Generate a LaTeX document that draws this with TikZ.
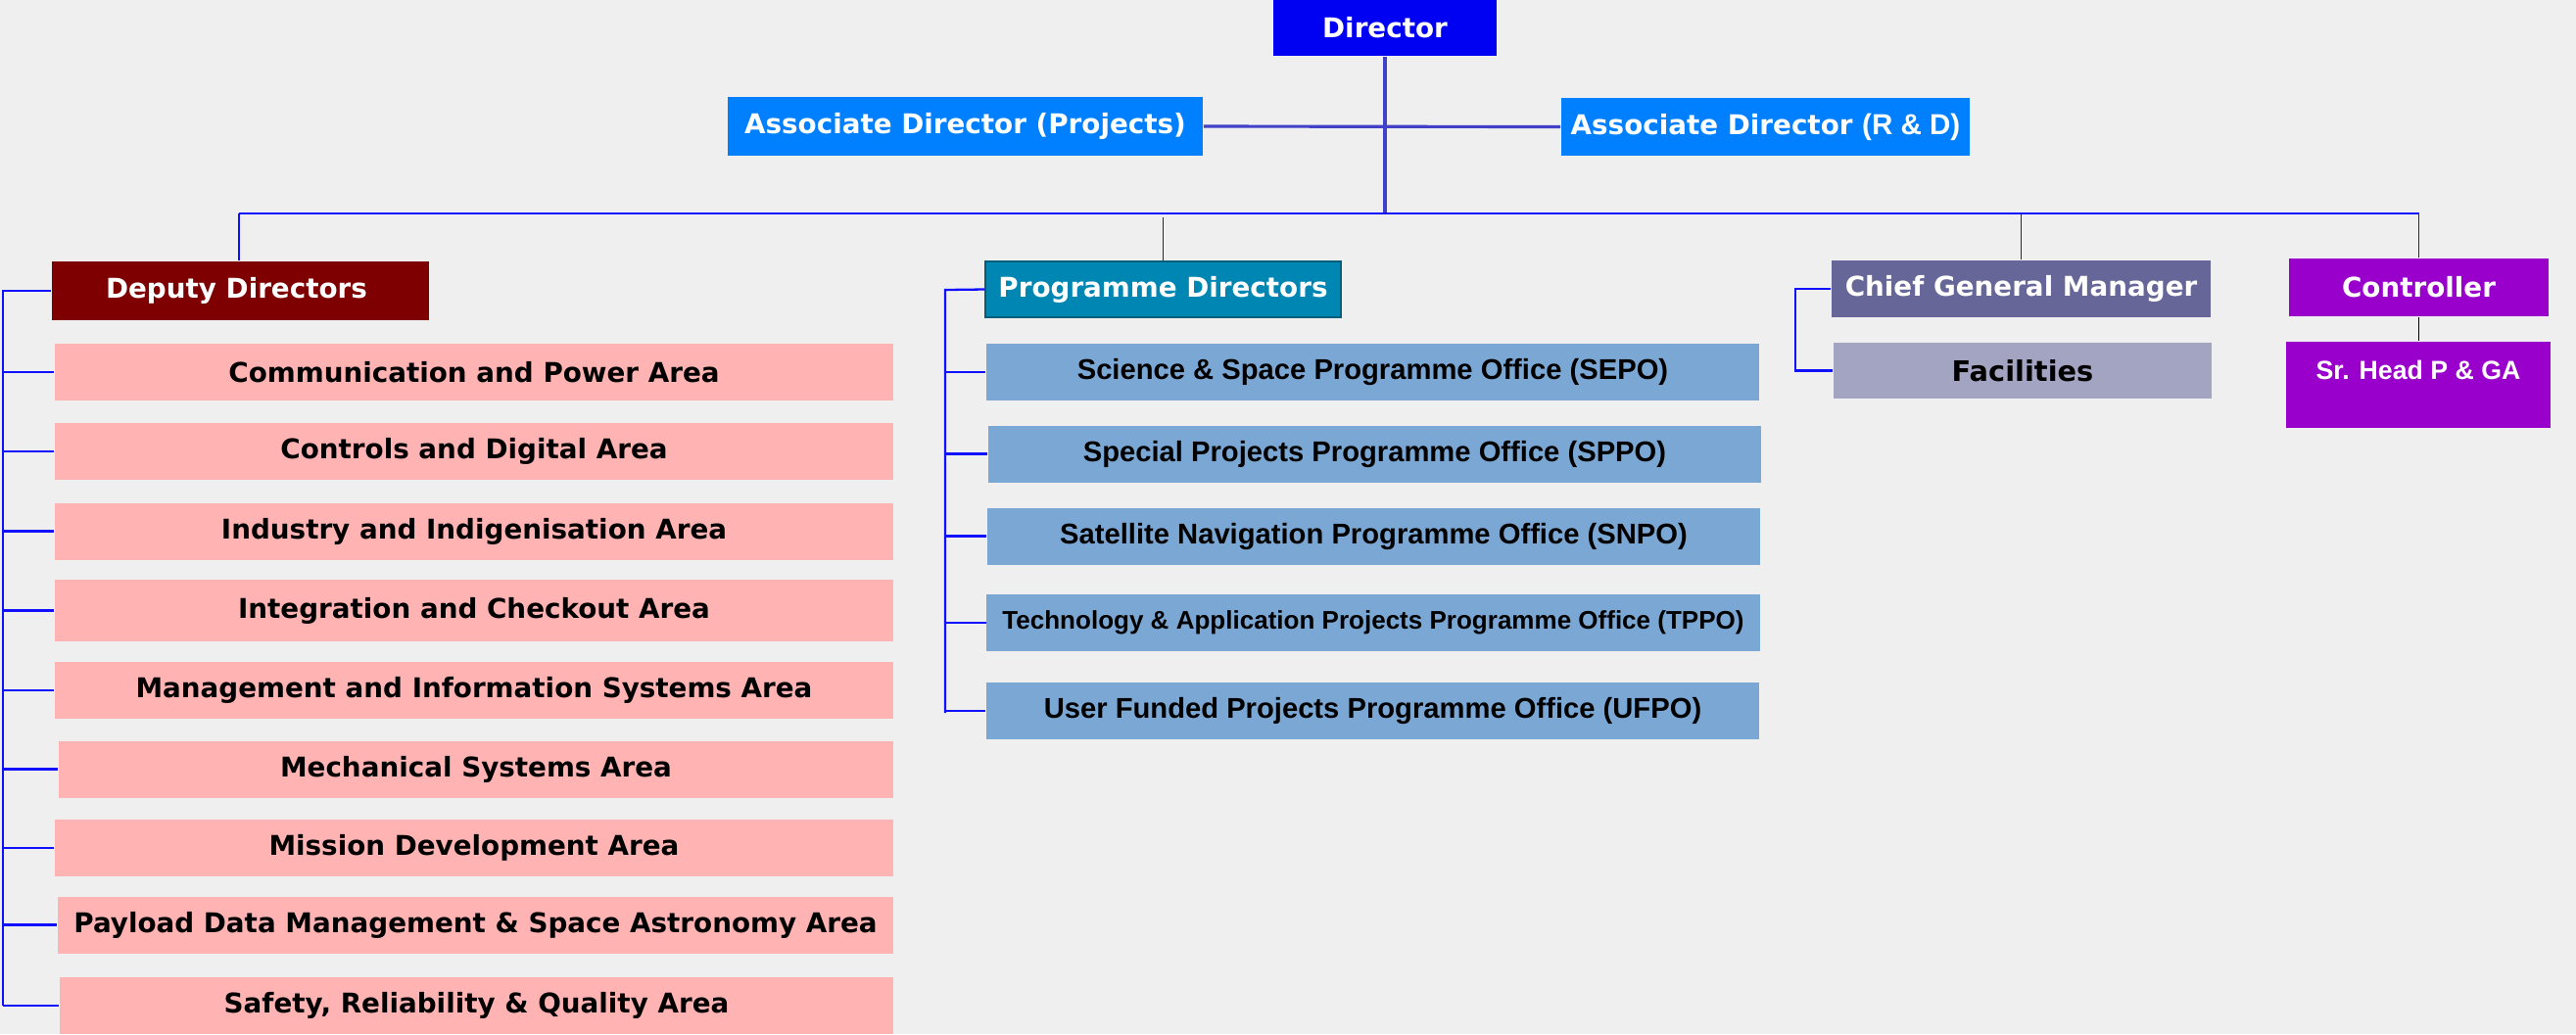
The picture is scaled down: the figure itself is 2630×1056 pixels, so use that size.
\documentclass[tikz,border=0pt]{standalone}
\usepackage{fontspec}
\newfontfamily\dvb{DejaVu Sans Bold}
\newfontfamily\lsb{Liberation Sans Bold}
\definecolor{bg}{HTML}{EFEFEF}
\definecolor{cdir}{HTML}{0000F2}
\definecolor{cad}{HTML}{0080FF}
\definecolor{cdep}{HTML}{7F0000}
\definecolor{cpink}{HTML}{FFB3B3}
\definecolor{cpd}{HTML}{0086B3}
\definecolor{coff}{HTML}{7BA7D4}
\definecolor{ccgm}{HTML}{666699}
\definecolor{cfac}{HTML}{A3A3C2}
\definecolor{cctl}{HTML}{9900CC}
\definecolor{cline}{HTML}{1010FF}
\definecolor{cdline}{HTML}{4040C8}
\tikzset{
  box/.style={rectangle, inner sep=0pt, draw=none},
  hdr/.style={box, text=white, font=\dvb\fontsize{7.9}{9}\selectfont},
  area/.style={box, fill=cpink, text=black, font=\dvb\fontsize{7.9}{9}\selectfont,
               minimum width=8.56cm, minimum height=0.58cm},
  office/.style={box, fill=coff, text=black, font=\lsb\fontsize{8.3}{9}\selectfont,
               minimum width=7.89cm, minimum height=0.58cm},
  conn/.style={draw=cline, line width=0.65pt},
  thin/.style={draw=cline, line width=0.5pt},
  dconn/.style={draw=cdline, line width=0.9pt},
}
\begin{document}
\begin{tikzpicture}[x=0.01cm, y=-0.01cm]
\fill[bg] (0,0) rectangle (2630,1056);
\useasboundingbox (0,0) rectangle (2630,1056);

% top level
\node[hdr, fill=cdir, minimum width=2.28cm, minimum height=0.57cm] (dir) at (1414,28.5) {Director};
\node[hdr, fill=cad, minimum width=4.85cm, minimum height=0.60cm] (adp) at (985.5,129) {Associate Director (Projects)};
\node[hdr, fill=cad, minimum width=4.17cm, minimum height=0.59cm] (adr) at (1802.5,129.5) {Associate Director {\lsb\fontsize{8.4}{9}\selectfont(R \& D)}};

\coordinate (busc) at (1414,218);
\coordinate (busl) at (244,218);
\coordinate (busr) at (2470,218);

\draw[dconn] (dir.south) -- (busc);
\draw[dconn] (adp.east) -- (adr.west);
\draw[conn] (busl) -- (busr);

% second level
\node[hdr, fill=cdep, minimum width=3.85cm, minimum height=0.60cm] (dep) at (245.5,297) {\hspace*{-0.08cm}Deputy Directors};
\node[hdr, fill=cpd, draw=cpd!70!black, minimum width=3.63cm, minimum height=0.57cm] (pd) at (1187.5,295.5) {Programme Directors};
\node[hdr, fill=ccgm, minimum width=3.87cm, minimum height=0.58cm] (cgm) at (2063.5,295) {Chief General Manager};
\node[hdr, fill=cctl, minimum width=2.65cm, minimum height=0.59cm] (ctl) at (2469.5,293.5) {Controller};

\draw[thin] (busl) -- (dep.north -| busl);
\draw[thin] (pd.north) -- (pd.north |- 0,222);
\draw[thin] (cgm.north) -- (cgm.north |- busc);
\draw[thin] (ctl.north) -- (ctl.north |- busr);

% deputy areas
\node[area] (a1) at (484,380) {Communication and Power Area};
\node[area] (a2) at (484,461) {Controls and Digital Area};
\node[area] (a3) at (484,542.5) {Industry and Indigenisation Area};
\node[area, minimum height=0.63cm] (a4) at (484,623.5) {Integration and Checkout Area};
\node[area] (a5) at (484,705) {Management and Information Systems Area};
\node[area, minimum width=8.52cm] (a6) at (486,785.5) {Mechanical Systems Area};
\node[area] (a7) at (484,866) {Mission Development Area};
\node[area, minimum width=8.53cm] (a8) at (485.5,944.5) {Payload Data Management \& Space Astronomy Area};
\node[area, minimum width=8.51cm] (a9) at (486.5,1027) {Safety, Reliability \& Quality Area};

\coordinate (dl) at (3,297);
\coordinate (dlb) at (3,1027);
\draw[conn] (dep.west) -- (dl) -- (dlb);
\foreach \n in {a1,a2,a3,a4,a5,a6,a7,a8,a9}{
  \draw[conn] (\n.west) -- (\n.west -| dl);
}

% programme offices
\node[office] (o1) at (1401.5,380) {Science \& Space Programme Office (SEPO)};
\node[office] (o2) at (1403.5,463.5) {Special Projects Programme Office (SPPO)};
\node[office] (o3) at (1402.5,547.5) {Satellite Navigation Programme Office (SNPO)};
\node[office, font=\lsb\fontsize{7.4}{9}\selectfont] (o4) at (1402,636) {Technology \& Application Projects Programme Office (TPPO)};
\node[office] (o5) at (1401.5,726) {User Funded Projects Programme Office (UFPO)};

\coordinate (pl) at (965,296);
\coordinate (plb) at (965,728);
\draw[conn] (pd.west) -- (pl) -- (plb);
\foreach \n in {o1,o2,o3,o4,o5}{
  \draw[conn] (\n.west) -- (\n.west -| pl);
}

% CGM and controller
\node[box, fill=cfac, text=black, font=\dvb\fontsize{8.2}{9}\selectfont, minimum width=3.86cm, minimum height=0.57cm] (fac) at (2065,378.5) {Facilities};
\coordinate (cl) at (1833,295);
\draw[conn] (cgm.west) -- (cl) -- (cl |- fac.west) -- (fac.west);

\node[box, fill=cctl, text=white, font=\lsb\fontsize{7.6}{9}\selectfont, minimum width=2.70cm, minimum height=0.88cm] (srh) at (2469,393)
  {\raisebox{0pt}[\height][\dimexpr\depth+0.30cm\relax]{Sr. Head P \& GA}};
\draw[black, line width=0.4pt] (ctl.south) -- (ctl.south |- srh.north);
\end{tikzpicture}
\end{document}
